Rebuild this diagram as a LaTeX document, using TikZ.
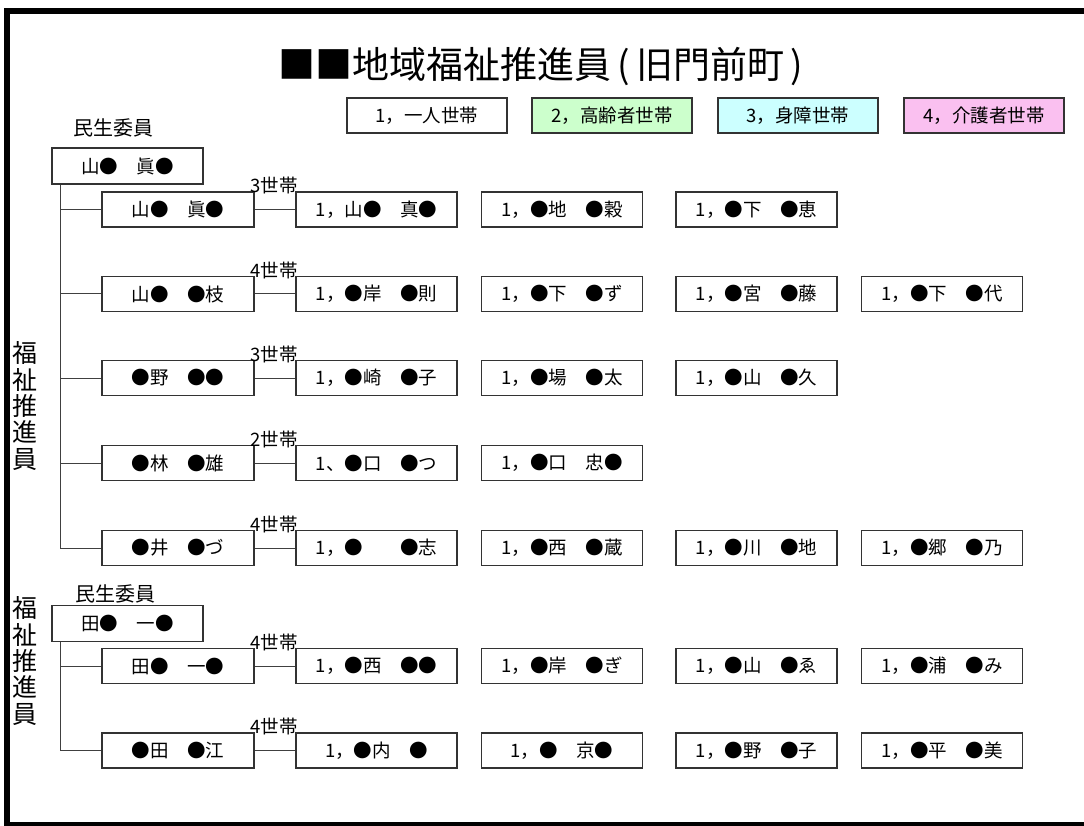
\documentclass[tikz,border=0pt]{standalone}
\usepackage{fontspec}
\setmainfont{Noto Sans CJK JP}
\definecolor{lgreen}{RGB}{204,255,204}
\definecolor{lcyan}{RGB}{204,255,255}
\definecolor{lpink}{RGB}{250,192,240}
\begin{document}
\begin{tikzpicture}[x=1pt,y=-1pt,
  box/.style={draw=black!80, line width=1.1pt, minimum height=35pt, inner sep=0pt, font=\fontsize{18.5}{22}\selectfont},
  hh/.style={box, minimum width=161pt},
  adv/.style={box, minimum width=152pt},
  lg/.style={box, minimum width=160pt},
  minsei/.style={box, minimum width=151pt, minimum height=36pt},
  conn/.style={draw=black!75, line width=1pt},
  cnt/.style={font=\fontsize{18.5}{22}\selectfont, inner sep=0pt},
  lab/.style={font=\fontsize{20}{22}\selectfont, inner sep=0pt},
  vert/.style={font=\fontsize{25}{26.4}\selectfont, align=center, inner sep=0pt},
]
\useasboundingbox (0,0) rectangle (1084,826);
% frame
\fill (4,8) rectangle (1084,14);
\fill (4,8) rectangle (10,826);
\fill (4,822) rectangle (1084,826);

% title
\node[font=\fontsize{37}{40}\selectfont, inner sep=0pt] (title) at (541,66) {■■地域福祉推進員\,(\,旧門前町\,)};

% legend
\node[lg] (l1) at (427,115.5) {1，一人世帯};
\node[lg, fill=lgreen] (l2) at (612,115.5) {2，高齢者世帯};
\node[lg, fill=lcyan] (l3) at (798,115.5) {3，身障世帯};
\node[lg, fill=lpink] (l4) at (984,115.5) {4，介護者世帯};

% ===== group 1 =====
\node[vert] (v1) at (25,406) {福\\祉\\推\\進\\員};
\node[lab] (m1lab) at (113,128) {民生委員};
\node[minsei] (m1) at (127.5,166) {山●　眞●};
\coordinate (t1) at ([xshift=9pt]m1.south west);

\node[adv] (a11) at (178,209.5) {山●　眞●};
\node[adv] (a12) at (178,294) {山●　●枝};
\node[adv] (a13) at (178,378) {●野　●●};
\node[adv] (a14) at (178,463) {●林　●雄};
\node[adv] (a15) at (178,548) {●井　●づ};

\draw[conn] (t1) |- (a15.west);
\foreach \n in {a11,a12,a13,a14}{\draw[conn] (\n.west) -- (\n.west -| t1);}

% row 1
\node[hh] (h111) at (376.5,209.5) {1，山●　真●};
\node[hh] (h112) at (562,209.5) {1，●地　●穀};
\node[hh] (h113) at (756.5,209.5) {1，●下　●恵};
% row 2
\node[hh] (h121) at (376.5,294) {1，●岸　●則};
\node[hh] (h122) at (562,294) {1，●下　●ず};
\node[hh] (h123) at (756.5,294) {1，●宮　●藤};
\node[hh] (h124) at (942,294) {1，●下　●代};
% row 3
\node[hh] (h131) at (376.5,378) {1，●崎　●子};
\node[hh] (h132) at (562,378) {1，●場　●太};
\node[hh] (h133) at (756.5,378) {1，●山　●久};
% row 4
\node[hh] (h141) at (376.5,463) {1、●口　●つ};
\node[hh] (h142) at (562,463) {1，●口　忠●};
% row 5
\node[hh] (h151) at (376.5,548) {1，●　　●志};
\node[hh] (h152) at (562,548) {1，●西　●蔵};
\node[hh] (h153) at (756.5,548) {1，●川　●地};
\node[hh] (h154) at (942,548) {1，●郷　●乃};

\draw[conn] (a11.east) -- (h111.west);
\draw[conn] (a12.east) -- (h121.west);
\draw[conn] (a13.east) -- (h131.west);
\draw[conn] (a14.east) -- (h141.west);
\draw[conn] (a15.east) -- (h151.west);

\node[cnt] (c11) at (274,185.5) {3世帯};
\node[cnt] (c12) at (274,270) {4世帯};
\node[cnt] (c13) at (274,354) {3世帯};
\node[cnt] (c14) at (274,439) {2世帯};
\node[cnt] (c15) at (274,524) {4世帯};

% ===== group 2 =====
\node[vert] (v2) at (25,661) {福\\祉\\推\\進\\員};
\node[lab] (m2lab) at (115,594) {民生委員};
\node[minsei] (m2) at (127.5,623.5) {田●　一●};
\coordinate (t2) at ([xshift=9pt]m2.south west);

\node[adv] (a21) at (178,666) {田●　一●};
\node[adv] (a22) at (178,750.5) {●田　●江};

\draw[conn] (t2) |- (a22.west);
\draw[conn] (a21.west) -- (a21.west -| t2);

\node[hh] (h211) at (376.5,666) {1，●西　●●};
\node[hh] (h212) at (562,666) {1，●岸　●ぎ};
\node[hh] (h213) at (756.5,666) {1，●山　●ゑ};
\node[hh] (h214) at (942,666) {1，●浦　●み};

\node[hh] (h221) at (376.5,750.5) {1，●内　●};
\node[hh] (h222) at (562,750.5) {1，●　京●};
\node[hh] (h223) at (756.5,750.5) {1，●野　●子};
\node[hh] (h224) at (942,750.5) {1，●平　●美};

\draw[conn] (a21.east) -- (h211.west);
\draw[conn] (a22.east) -- (h221.west);

\node[cnt] (c21) at (274,642) {4世帯};
\node[cnt] (c22) at (274,726.5) {4世帯};
\end{tikzpicture}
\end{document}
